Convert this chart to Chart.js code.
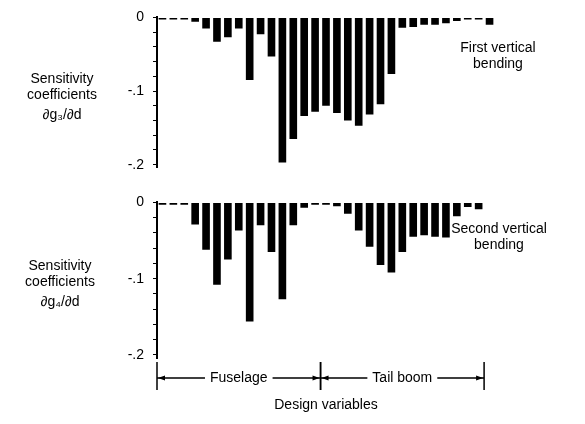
<!DOCTYPE html>
<html>
<head>
<meta charset="utf-8">
<script src="https://cdn.jsdelivr.net/npm/chart.js@4.4.0/dist/chart.umd.min.js"></script>
<style>
  html, body { margin: 0; padding: 0; background: #fff; }
  #page { position: relative; width: 585px; height: 424px; overflow: hidden;
          font-family: "Liberation Sans", Arial, sans-serif; color: #000; }
  .box { position: absolute; }
  .lbl { position: absolute; text-align: center; font-size: 14px; line-height: 16px; }
</style>
</head>
<body>
<div id="page">
  <div class="box" style="left:0;top:0;width:585px;height:185px"><canvas id="chartTop"></canvas></div>
  <div class="box" style="left:0;top:185px;width:585px;height:239px"><canvas id="chartBottom"></canvas></div>

  <div class="lbl" style="left:12px;top:70px;width:100px">Sensitivity<br>coefficients<br><span style="line-height:24px">∂g₃/∂d</span></div>
  <div class="lbl" style="left:10px;top:257px;width:100px">Sensitivity<br>coefficients<br><span style="line-height:24px">∂g₄/∂d</span></div>

  <div class="lbl" style="left:446px;top:39px;width:104px">First vertical<br>bending</div>
  <div class="lbl" style="left:446px;top:220px;width:106px">Second vertical<br>bending</div>
</div>

<script>
const FONT = '"Liberation Sans", Arial, sans-serif';

// design variable index (x categories)
const designVariables = [
  "1", "2", "3", "4", "5", "6", "7", "8", "9", "10",
  "11", "12", "13", "14", "15", "16", "17", "18", "19", "20",
  "21", "22", "23", "24", "25", "26", "27", "28", "29", "30", "31"
];

// dg3/dd - first vertical bending
const firstBending = [
  -0.003, -0.003, -0.003, -0.006, -0.015, -0.033, -0.027, -0.015, -0.085, -0.023,
  -0.053, -0.197, -0.165, -0.134, -0.128, -0.120, -0.130, -0.140, -0.147, -0.132,
  -0.118, -0.077, -0.014, -0.013, -0.010, -0.010, -0.008, -0.005, -0.003, -0.003, -0.010
];

// dg4/dd - second vertical bending
const secondBending = [
  -0.003, -0.003, -0.003, -0.029, -0.062, -0.108, -0.075, -0.037, -0.156, -0.030,
  -0.065, -0.127, -0.030, -0.007, -0.003, -0.003, -0.005, -0.015, -0.037, -0.058,
  -0.082, -0.092, -0.065, -0.045, -0.043, -0.045, -0.046, -0.018, -0.006, -0.009, null
];

const yTickLabels = ["0", "-.1", "-.2"];
const yTickValues = [0, -0.1, -0.2];

const groupNames = ["Fuselage", "Tail boom"];
const groupStarts = [0, 15];
const groupEnds = [14, 29];

function yScale() {
  return {
    min: -0.204,
    max: 0,
    ticks: {
      stepSize: 0.02,
      includeBounds: false,
      autoSkip: false,
      padding: 9,
      color: "#000",
      font: { family: FONT, size: 14 },
      callback: function (v) {
        const i = yTickValues.findIndex(t => Math.abs(t - v) < 1e-6);
        return i >= 0 ? yTickLabels[i] : "";
      }
    },
    grid: {
      display: true,
      drawOnChartArea: false,
      drawTicks: true,
      tickLength: 4,
      color: "#000",
      lineWidth: 1
    },
    border: { display: true, color: "#000", width: 2 },
    afterFit: function (s) { s.width = 157; }
  };
}

function barDataset(values) {
  return {
    data: values,
    backgroundColor: "#000",
    borderWidth: 0,
    barPercentage: 0.7,
    categoryPercentage: 1.0
  };
}

// brackets under the bottom panel
const bracketPlugin = {
  id: "brackets",
  afterDraw(chart) {
    const ctx = chart.ctx;
    const x = chart.scales.x;
    const half = (x.getPixelForValue(1) - x.getPixelForValue(0)) / 2;
    const lineY = chart.chartArea.bottom + 20;

    ctx.save();
    ctx.strokeStyle = "#000";
    ctx.fillStyle = "#000";
    ctx.lineWidth = 1.5;
    ctx.font = "14px " + FONT;
    ctx.textAlign = "center";
    ctx.textBaseline = "middle";

    groupNames.forEach((name, i) => {
      const x0 = x.getPixelForValue(groupStarts[i]) - half;
      const x1 = x.getPixelForValue(groupEnds[i]) + half;
      const mid = (x0 + x1) / 2;
      const tw = ctx.measureText(name).width;

      ctx.beginPath();
      ctx.moveTo(x0, lineY - 16);
      ctx.lineTo(x0, lineY + 12);
      ctx.moveTo(x1, lineY - 16);
      ctx.lineTo(x1, lineY + 12);
      ctx.moveTo(x0, lineY);
      ctx.lineTo(mid - tw / 2 - 5, lineY);
      ctx.moveTo(mid + tw / 2 + 5, lineY);
      ctx.lineTo(x1, lineY);
      ctx.stroke();

      ctx.beginPath();
      ctx.moveTo(x0 + 1, lineY);
      ctx.lineTo(x0 + 8, lineY - 2.5);
      ctx.lineTo(x0 + 8, lineY + 2.5);
      ctx.closePath();
      ctx.moveTo(x1 - 1, lineY);
      ctx.lineTo(x1 - 8, lineY - 2.5);
      ctx.lineTo(x1 - 8, lineY + 2.5);
      ctx.closePath();
      ctx.fill();

      ctx.fillText(name, mid, lineY);
    });
    ctx.restore();
  }
};

new Chart(document.getElementById("chartTop"), {
  type: "bar",
  data: { labels: designVariables, datasets: [barDataset(firstBending)] },
  options: {
    responsive: true,
    maintainAspectRatio: false,
    animation: false,
    layout: { padding: { top: 12, bottom: 12, left: 0, right: 90 } },
    plugins: { legend: { display: false }, tooltip: { enabled: false } },
    scales: {
      x: { display: false, offset: true },
      y: yScale()
    }
  }
});

new Chart(document.getElementById("chartBottom"), {
  type: "bar",
  data: { labels: designVariables, datasets: [barDataset(secondBending)] },
  options: {
    responsive: true,
    maintainAspectRatio: false,
    animation: false,
    layout: { padding: { top: 12, bottom: 0, left: 0, right: 90 } },
    plugins: { legend: { display: false }, tooltip: { enabled: false } },
    scales: {
      x: {
        display: true,
        offset: true,
        ticks: { display: false },
        grid: { display: false, drawTicks: false },
        border: { display: false },
        title: {
          display: true,
          text: "Design variables",
          color: "#000",
          font: { family: FONT, size: 14 },
          padding: { top: 0, bottom: 10 }
        },
        afterFit: function (s) { s.height = 66; }
      },
      y: yScale()
    }
  },
  plugins: [bracketPlugin]
});
</script>
</body>
</html>
